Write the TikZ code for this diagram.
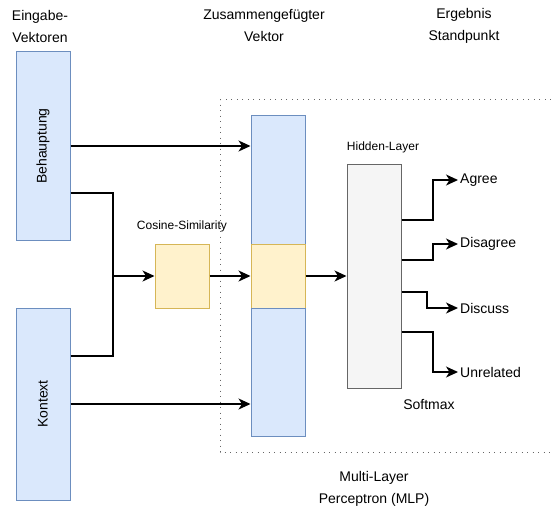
\documentclass[tikz,border=0pt]{standalone}
\usepackage{fontspec}
\setmainfont{Liberation Sans}
\usetikzlibrary{arrows.meta}
\definecolor{vecfill}{HTML}{DAE8FC}
\definecolor{vecline}{HTML}{6C8EBF}
\definecolor{simfill}{HTML}{FFF2CC}
\definecolor{simline}{HTML}{D6B656}
\definecolor{hidfill}{HTML}{F5F5F5}
\definecolor{hidline}{HTML}{666666}
\begin{document}
\begin{tikzpicture}[x=1pt, y=-1pt,
  vec/.style={draw=vecline, fill=vecfill, line width=1pt, minimum width=54pt, inner sep=0pt},
  sim/.style={draw=simline, fill=simfill, line width=1pt, minimum width=54pt, minimum height=64pt, inner sep=0pt},
  arr/.style={-{Stealth[length=12pt,width=11pt,inset=3.5pt]}, line width=1.3pt},
  lbl/.style={font=\fontsize{14}{22}\selectfont, align=center},
  small/.style={font=\fontsize{12}{14}\selectfont},
  outlbl/.style={font=\fontsize{14}{16}\selectfont, anchor=west, inner sep=2pt}]
\useasboundingbox (0,0) rectangle (551,508);
% MLP frame
\draw[hidline, line width=1pt, dash pattern=on 1pt off 4.5pt] (551,100) -- (220,100) -- (220,452) -- (551,452);
% headings
\node[lbl] (hd-in) at (40,26) {Eingabe-\\Vektoren};
\node[lbl] (hd-cat) at (264,26) {Zusammengefügter\\Vektor};
\node[lbl] (hd-out) at (464,26) {Ergebnis\\Standpunkt};
\node[lbl] (hd-mlp) at (374,489) {Multi-Layer\\Perceptron (MLP)};
% input vectors
\node[vec, minimum height=188pt, label={[rotate=90, lbl]center:Behauptung}] (behaupt) at (43,146) {};
\node[vec, minimum height=192pt, label={[rotate=90, lbl]center:Kontext}] (kontext) at (43,404) {};
% cosine similarity
\node[sim] (cosine) at (182,276) {};
\node[small] (cos-lbl) at (182,226) {Cosine-Similarity};
% concatenated vector
\node[vec, minimum height=128pt] (catA) at (278,180) {};
\node[sim] (catB) at (278,276) {};
\node[vec, minimum height=128pt] (catC) at (278,372) {};
% hidden layer
\node[draw=hidline, fill=hidfill, line width=1pt, minimum width=54pt, minimum height=224pt, inner sep=0pt] (hidden) at (374,276) {};
\node[small] (hid-lbl) at (383,147) {Hidden-Layer};
\node[lbl] (softmax) at (429,404) {Softmax};
% connectors
\coordinate (join) at (113,276);
\draw[arr] (behaupt.east |- 0,146) -- (catA.west |- 0,146);
\draw[line width=1.3pt] (behaupt.east |- 0,193) -| (join);
\draw[line width=1.3pt] (kontext.east |- 0,356) -| (join);
\draw[arr] (join) -- (cosine);
\draw[arr] (kontext.east) -- (kontext.east -| catC.west);
\draw[arr] (cosine) -- (catB);
\draw[arr] (catB) -- (hidden);
% outputs
\foreach \ya/\yb/\xm/\lab [count=\i] in {220/180/433/Agree, 260/244/433/Disagree, 292/308/427/Discuss, 332/372/433/Unrelated}{
  \node[outlbl] (out\i) at (458,\yb) {\lab};
  \draw[arr] (hidden.east |- 0,\ya) -- (\xm,\ya) |- (out\i);
}
\end{tikzpicture}
\end{document}
